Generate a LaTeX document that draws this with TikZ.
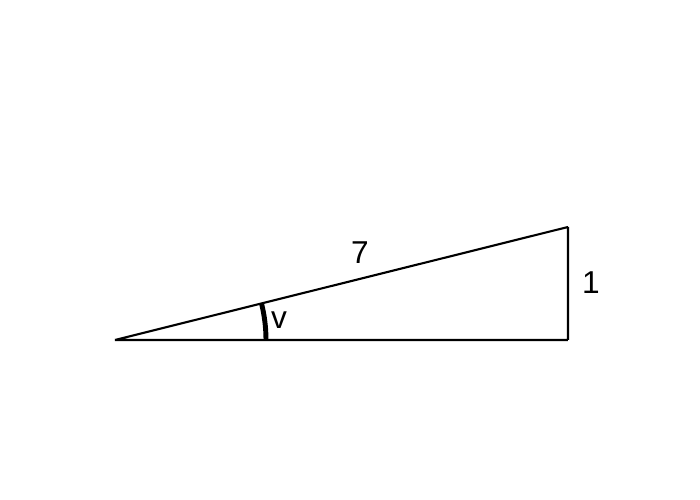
\documentclass[tikz,border=0pt]{standalone}
\usepackage{fontspec}
\setmainfont{Liberation Sans}
\begin{document}
\begin{tikzpicture}
		\tikzstyle{every node}=[inner sep=0pt,font=\fontsize{9}{11}\selectfont];
		\useasboundingbox (0,0) rectangle (7,5);
		\coordinate (a) at (1.15,1.60);
		\coordinate (b) at (5.68,1.60);
		\coordinate (c) at (5.68,2.73);
		\node (hyp) at (3.60,2.47) {7};
		\node (side) at (5.91,2.17) {1};
		\node (ang) at (2.79,1.80) {v};
		\draw[line width=0.6pt] 
		(a) -- (b)
		(b) -- (c)
		(c) -- (a);
		
		\draw[line width=1.4pt] (a) ++(0:1.51) arc (0:14:1.51);
	\end{tikzpicture}
\end{document}
